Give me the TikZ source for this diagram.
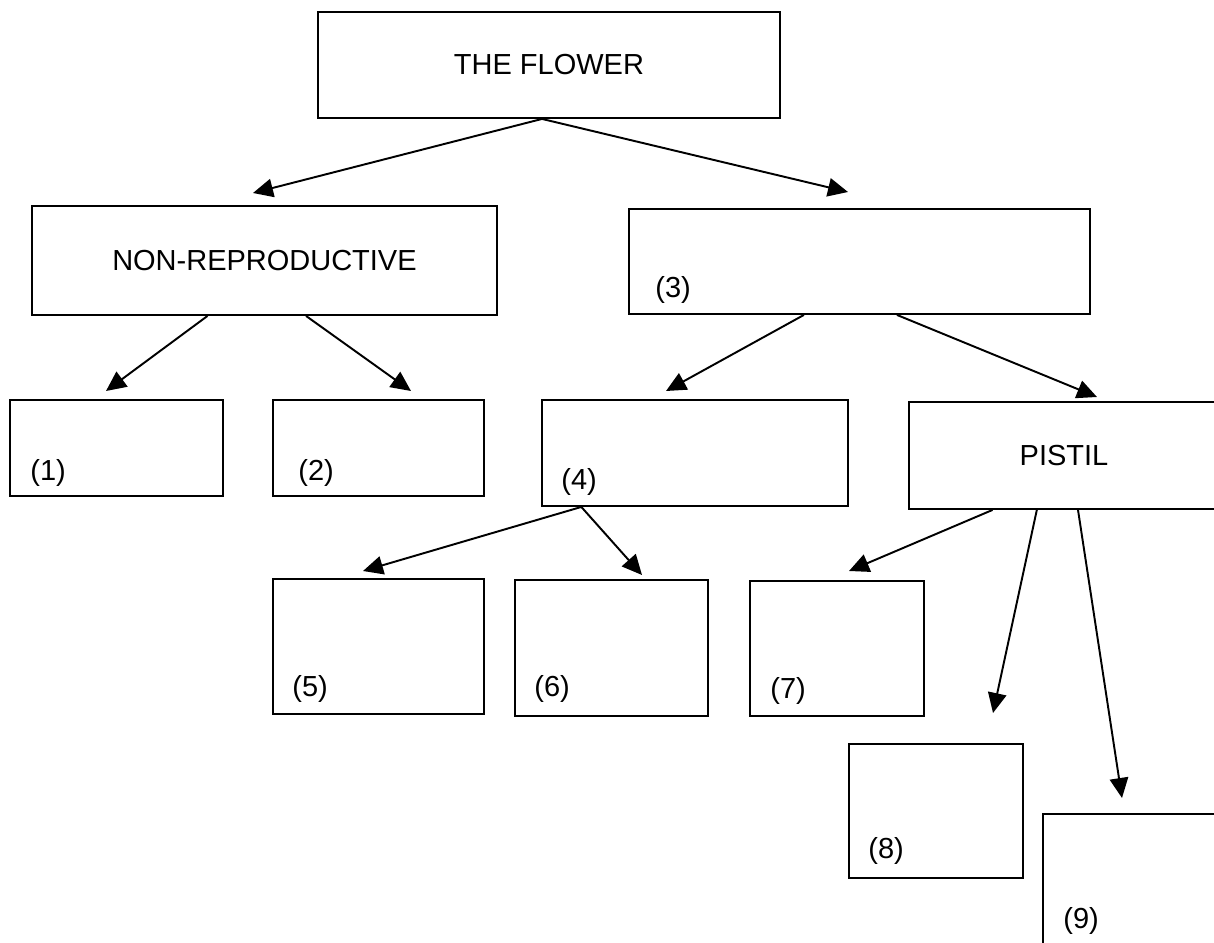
\documentclass[tikz,border=0pt]{standalone}
\usepackage{fontspec}
\setmainfont{Liberation Sans}
\usetikzlibrary{calc,arrows.meta}

\begin{document}
\begin{tikzpicture}[x=0.02cm,y=-0.02cm,
    box/.style={draw,line width=1.1pt,anchor=north west,inner sep=0pt,font=\fontsize{16.5}{19}\selectfont},
    wh/.style 2 args={minimum width=#1*0.02cm,minimum height=#2*0.02cm},
    tag/.style={anchor=base west,inner sep=0pt,font=\fontsize{16.5}{19}\selectfont},
    arr/.style={line width=1.1pt,-{Triangle[length=0.4cm,width=0.37cm]}}]
    \useasboundingbox (0,0) rectangle (1214,943);
    \node[box,wh={462}{106}] (flower) at (317,11) {THE FLOWER};
    \node[box,wh={465}{109}] (nonrep) at (31,205) {NON-REPRODUCTIVE};
    \node[box,wh={461}{105}] (repro) at (628,208) {};
    \node[box,wh={213}{96}] (b1) at (9,399) {};
    \node[box,wh={211}{96}] (b2) at (272,399) {};
    \node[box,wh={306}{106}] (b4) at (541,399) {};
    \node[box,wh={310}{107}] (pistil) at (908,401) {PISTIL};
    \node[box,wh={211}{135}] (b5) at (272,578) {};
    \node[box,wh={193}{136}] (b6) at (514,579) {};
    \node[box,wh={174}{135}] (b7) at (749,580) {};
    \node[box,wh={174}{134}] (b8) at (848,743) {};
    \node[box,wh={180}{140}] (b9) at (1042,813) {};
    %\node[tag] at (flower.south) {};
    \node[tag] (l1) at ($(b1.south west)+(21,-16)$) {(1)};
    \node[tag] (l2) at ($(b2.south west)+(26,-16)$) {(2)};
    \node[tag] (l3) at ($(repro.south west)+(27,-17)$) {(3)};
    \node[tag] (l4) at ($(b4.south west)+(20,-17)$) {(4)};
    \node[tag] (l5) at ($(b5.south west)+(20,-18)$) {(5)};
    \node[tag] (l6) at ($(b6.south west)+(20,-20)$) {(6)};
    \node[tag] (l7) at ($(b7.south west)+(21,-18)$) {(7)};
    \node[tag] (l8) at ($(b8.south west)+(20,-20)$) {(8)};
    \node[tag] (l9) at ($(b9.south west)+(21,-26)$) {(9)};
    \coordinate (tNon) at (253,193);
    \coordinate (tRep) at (848,192);
    \coordinate (t1) at (106,391);
    \coordinate (t2) at (411,391);
    \coordinate (t4) at (666,391);
    \coordinate (tPis) at (1097,397);
    \coordinate (t5) at (363,571);
    \coordinate (t6) at (642,575);
    \coordinate (t7) at (849,571);
    \coordinate (t8) at (993,713);
    \coordinate (t9) at (1122,798);
    \draw[arr] ($(flower.south west)!0.485!(flower.south east)$) -- (tNon);
    \draw[arr] ($(flower.south west)!0.485!(flower.south east)$) -- (tRep);
    \draw[arr] ($(nonrep.south west)!0.378!(nonrep.south east)$) -- (t1);
    \draw[arr] ($(nonrep.south west)!0.589!(nonrep.south east)$) -- (t2);
    \draw[arr] ($(repro.south west)!0.38!(repro.south east)$) -- (t4);
    \draw[arr] ($(repro.south west)!0.581!(repro.south east)$) -- (tPis);
    \draw[arr] ($(b4.south west)!0.131!(b4.south east)$) -- (t5);
    \draw[arr] ($(b4.south west)!0.131!(b4.south east)$) -- (t6);
    \draw[arr] ($(pistil.south west)!0.271!(pistil.south east)$) -- (t7);
    \draw[arr] ($(pistil.south west)!0.413!(pistil.south east)$) -- (t8);
    \draw[arr] ($(pistil.south west)!0.545!(pistil.south east)$) -- (t9);
\end{tikzpicture}
\end{document}
